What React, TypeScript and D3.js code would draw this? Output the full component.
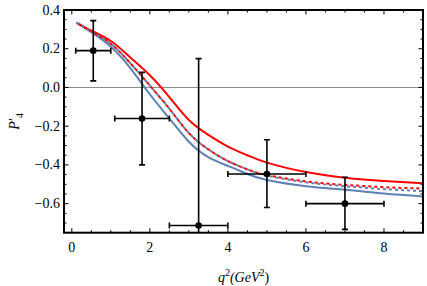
import React from "react";
import * as d3 from "d3";

const W = 427, H = 286;
const M = { left: 64, right: 423, top: 10, bottom: 232.7 };

const curveX = [0.12, 0.5, 1.0, 1.5, 2.0, 2.5, 3.0, 3.5, 4.0, 4.5, 5.0, 6.0, 7.0, 8.0, 9.0];
const redSolid = [0.335, 0.293, 0.24, 0.155, 0.063, -0.05, -0.168, -0.245, -0.305, -0.35, -0.388, -0.437, -0.466, -0.483, -0.495];
const blueSolid = [0.335, 0.285, 0.21, 0.1, -0.035, -0.16, -0.28, -0.36, -0.405, -0.447, -0.478, -0.51, -0.528, -0.548, -0.563];
const redDashed = [0.335, 0.29, 0.225, 0.125, 0.01, -0.11, -0.235, -0.32, -0.38, -0.423, -0.452, -0.485, -0.503, -0.515, -0.522];
const blueDashed = [0.335, 0.29, 0.225, 0.125, 0.01, -0.11, -0.235, -0.32, -0.38, -0.423, -0.455, -0.49, -0.51, -0.525, -0.535];

const ptX = [0.55, 1.8, 3.25, 5.0, 7.0];
const ptXLo = [0.1, 1.1, 2.5, 4.0, 6.0];
const ptXHi = [1.0, 2.5, 4.0, 6.0, 8.0];
const ptY = [0.19, -0.16, -0.713, -0.447, -0.6];
const ptYHi = [0.345, 0.078, 0.149, -0.27, -0.464];
const ptYLo = [0.034, -0.4, -1.2, -0.62, -0.733];

const xTicks = [0, 2, 4, 6, 8];
const yTicks = [0.4, 0.2, 0.0, -0.2, -0.4, -0.6];

const RED = "#ff0000";
const BLUE = "#5e81b5";

export default function App() {
  const x = d3.scaleLinear().domain([-0.2, 9]).range([M.left, M.right]);
  const y = d3.scaleLinear().domain([-0.75, 0.4]).range([M.bottom, M.top]);

  const mk = (vals: number[]) =>
    d3.line<number>().x((_, i) => x(curveX[i])).y((v) => y(v)).curve(d3.curveNatural)(vals) || "";

  const xMinor = d3.range(0, 9.01, 0.5);
  const yMinor = d3.range(-0.75, 0.401, 0.05).map((v) => Math.round(v * 100) / 100);

  const fmt = (v: number) => (v < 0 ? "\u2212" : "") + Math.abs(v).toFixed(1);

  return (
    <svg width={W} height={H} style={{ position: "absolute", left: 0, top: 0, background: "#fff" }}>
      <defs>
        <clipPath id="plot">
          <rect x={M.left} y={M.top} width={M.right - M.left} height={M.bottom - M.top} />
        </clipPath>
      </defs>
      <line x1={M.left} x2={M.right} y1={y(0)} y2={y(0)} stroke="#888" strokeWidth={1} />
      <g clipPath="url(#plot)" fill="none" strokeWidth={2}>
        <path d={mk(blueSolid)} stroke={BLUE} />
        <path d={mk(redSolid)} stroke={RED} />
        <path d={mk(blueDashed)} stroke={BLUE} strokeDasharray="3 3" />
        <path d={mk(redDashed)} stroke={RED} strokeDasharray="3 3" strokeDashoffset={3} />
      </g>
      <g clipPath="url(#plot)" stroke="#000" strokeWidth={1.6}>
        {ptX.map((px, i) => (
          <g key={i}>
            <line x1={x(ptXLo[i])} x2={x(ptXHi[i])} y1={y(ptY[i])} y2={y(ptY[i])} />
            <line x1={x(ptXLo[i])} x2={x(ptXLo[i])} y1={y(ptY[i]) - 3} y2={y(ptY[i]) + 3} />
            <line x1={x(ptXHi[i])} x2={x(ptXHi[i])} y1={y(ptY[i]) - 3} y2={y(ptY[i]) + 3} />
            <line x1={x(px)} x2={x(px)} y1={y(ptYLo[i])} y2={y(ptYHi[i])} />
            <line x1={x(px) - 3} x2={x(px) + 3} y1={y(ptYLo[i])} y2={y(ptYLo[i])} />
            <line x1={x(px) - 3} x2={x(px) + 3} y1={y(ptYHi[i])} y2={y(ptYHi[i])} />
            <circle cx={x(px)} cy={y(ptY[i])} r={3.3} fill="#000" stroke="none" />
          </g>
        ))}
      </g>
      <g stroke="#000" strokeWidth={1}>
        {xMinor.map((v) => {
          const major = Math.abs(v - Math.round(v / 2) * 2) < 1e-6;
          const len = major ? 4.5 : 2.5;
          return (
            <g key={"x" + v}>
              <line x1={x(v)} x2={x(v)} y1={M.bottom} y2={M.bottom - len} />
              <line x1={x(v)} x2={x(v)} y1={M.top} y2={M.top + len} />
            </g>
          );
        })}
        {yMinor.map((v) => {
          const major = Math.abs(v * 5 - Math.round(v * 5)) < 1e-6;
          const len = major ? 4.5 : 2.5;
          return (
            <g key={"y" + v}>
              <line x1={M.left} x2={M.left + len} y1={y(v)} y2={y(v)} />
              <line x1={M.right} x2={M.right - len} y1={y(v)} y2={y(v)} />
            </g>
          );
        })}
      </g>
      <rect x={M.left} y={M.top} width={M.right - M.left} height={M.bottom - M.top} fill="none" stroke="#000" strokeWidth={2} />
      <g fontFamily="'Liberation Serif', 'Times New Roman', serif" fontSize={14} fill="#000">
        {xTicks.map((v) => (
          <text key={v} x={x(v)} y={252} textAnchor="middle">{v}</text>
        ))}
        {yTicks.map((v) => (
          <text key={v} x={60} y={y(v) + 4.5} textAnchor="end">{fmt(v)}</text>
        ))}
        <text x={(M.left + M.right) / 2} y={281.5} textAnchor="middle" fontStyle="italic">
          q<tspan dy={-6} fontSize={10} fontStyle="normal">2</tspan>
          <tspan dy={6}>(GeV</tspan>
          <tspan dy={-6} fontSize={10} fontStyle="normal">2</tspan>
          <tspan dy={6} fontStyle="normal">)</tspan>
        </text>
        <text transform={`translate(19,${(M.top + M.bottom) / 2}) rotate(-90)`} textAnchor="middle" fontStyle="italic">
          P<tspan fontStyle="normal">′</tspan>
          <tspan dy={4} fontSize={10} fontStyle="normal">4</tspan>
        </text>
      </g>
    </svg>
  );
}
